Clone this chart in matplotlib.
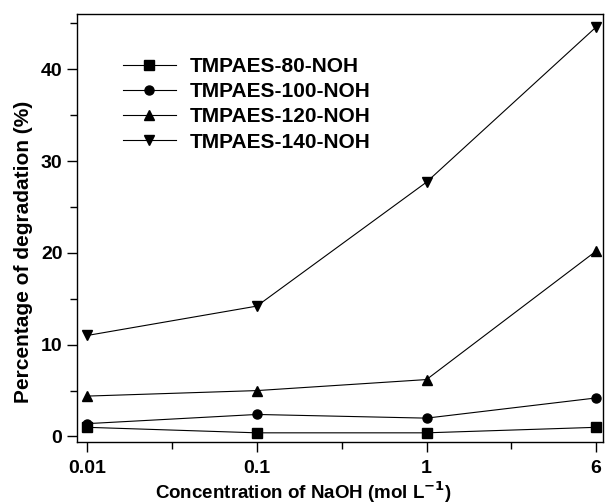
# Degradation percentage vs NaOH concentration for TMPAES-x-NOH membranes
import numpy as np
import matplotlib.pyplot as plt
from matplotlib.ticker import MultipleLocator, FixedLocator

plt.rcParams['font.family'] = ['Liberation Sans', 'DejaVu Sans']
plt.rcParams['font.weight'] = 'bold'
plt.rcParams['mathtext.default'] = 'bf'

# Data
concentrations = ['0.01', '0.1', '1', '6']
tmpaes_80 = [1.0, 0.4, 0.4, 1.0]
tmpaes_100 = [1.4, 2.4, 2.0, 4.2]
tmpaes_120 = [4.4, 5.0, 6.2, 20.2]
tmpaes_140 = [11.0, 14.2, 27.7, 44.6]
series_names = ['TMPAES-80-NOH', 'TMPAES-100-NOH', 'TMPAES-120-NOH', 'TMPAES-140-NOH']

fig = plt.figure(figsize=(6.06, 5.04), dpi=100)
ax = fig.add_axes([0.127, 0.123, 0.868, 0.849])

x = np.arange(len(concentrations))
markers = ['s', 'o', '^', 'v']
for serie, nombre, m in zip([tmpaes_80, tmpaes_100, tmpaes_120, tmpaes_140], series_names, markers):
    ax.plot(x, serie, color='black', linewidth=0.8, marker=m, markersize=6.5, label=nombre)

ax.set_xlim(-0.06, 3.04)
ax.set_ylim(-0.6, 46)
ax.set_xticks(x)
ax.set_xticklabels(concentrations)
ax.xaxis.set_minor_locator(FixedLocator([0.5, 1.5, 2.5]))
ax.yaxis.set_major_locator(MultipleLocator(10))
ax.yaxis.set_minor_locator(MultipleLocator(5))

ax.tick_params(which='major', direction='out', length=7, width=1, labelsize=14)
ax.tick_params(which='minor', direction='out', length=5, width=1)
ax.tick_params(axis='x', which='major', pad=6)
ax.tick_params(axis='y', which='major', pad=3.5)
for lab in ax.get_xticklabels() + ax.get_yticklabels():
    lab.set_fontweight('bold')

for s in ax.spines.values():
    s.set_linewidth(1)

ax.set_xlabel('Concentration of NaOH (mol L$^{-1}$)', fontsize=13.5, fontweight='bold')
ax.xaxis.set_label_coords(0.43, -0.088)
ax.set_ylabel('Percentage of degradation (%)', fontsize=15, fontweight='bold')
ax.yaxis.set_label_coords(-0.084, 0.444)

ax.legend(loc='upper left', bbox_to_anchor=(0.087, 0.9), frameon=False,
          borderpad=0, borderaxespad=0,
          handlelength=2.55, handletextpad=0.65, labelspacing=0.3,
          prop={'weight': 'bold', 'size': 15})

fig.savefig('out.png', dpi=100)
